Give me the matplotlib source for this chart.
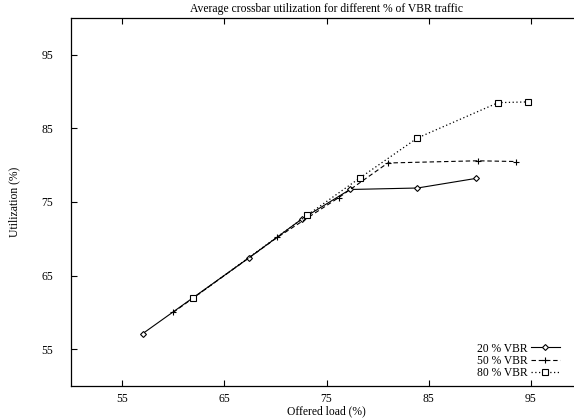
import matplotlib
matplotlib.use("Agg")
import matplotlib.pyplot as plt

plt.rcParams['font.family'] = ['Liberation Serif', 'DejaVu Serif']

# données
x20 = [57.0, 67.4, 72.6, 77.3, 83.9, 89.6]
y20 = [57.1, 67.4, 72.7, 76.7, 76.9, 78.2]
x50 = [60.0, 70.2, 76.2, 81.0, 89.8, 93.5]
y50 = [60.0, 70.2, 75.6, 80.3, 80.6, 80.5]
x80 = [61.9, 73.1, 78.3, 83.9, 91.8, 94.7]
y80 = [61.9, 73.2, 78.3, 83.7, 88.5, 88.6]
labels = ["20 % VBR", "50 % VBR", "80 % VBR"]
xticks = [55, 65, 75, 85, 95]
yticks = [55, 65, 75, 85, 95]

fs = 8.4

fig = plt.figure(figsize=(5.74, 4.2), dpi=100)
# l'axe s'arrête au bord droit de l'image, sans cadre à droite
ax = fig.add_axes([71 / 574, 34 / 420, 503 / 574, 368 / 420])

ax.plot(x20, y20, color="black", linestyle="-", linewidth=0.8,
        marker="D", markersize=3, markerfacecolor="white", markeredgewidth=0.8,
        label=labels[0])
ax.plot(x50, y50, color="black", linestyle=(0, (4, 2.5)), linewidth=0.8,
        marker="+", markersize=5, markeredgewidth=0.8, label=labels[1])
ax.plot(x80, y80, color="black", linestyle=(0, (1, 2)), linewidth=0.9,
        marker="s", markersize=3.8, markerfacecolor="white", markeredgewidth=0.8,
        label=labels[2])

ax.set_xlim(50, 50 + 503 / 10.22)
ax.set_ylim(50, 100)
ax.set_xticks(xticks)
ax.set_yticks(yticks)
ax.spines["right"].set_visible(False)
ax.tick_params(direction="in", length=4, width=0.8, labelsize=fs,
               top=True, right=False)
ax.tick_params(axis="x", pad=5)
ax.tick_params(axis="y", pad=13)
for s in ax.spines.values():
    s.set_linewidth(0.9)

ax.set_title("Average crossbar utilization for different % of VBR traffic",
             fontsize=fs, pad=4, x=(582 - 71) / 2 / 503)
ax.set_xlabel("Offered load (%)", fontsize=fs, labelpad=0, x=(582 - 71) / 2 / 503)
ax.set_ylabel("Utilization (%)", fontsize=fs, labelpad=15)

ax.legend(loc="lower right", bbox_to_anchor=(560 / 574, 41 / 420),
          bbox_transform=fig.transFigure, frameon=False, fontsize=fs,
          markerfirst=False, handlelength=2.5, labelspacing=0.02,
          handletextpad=0.3, borderpad=0, borderaxespad=0)

fig.savefig("out.png", dpi=100)
